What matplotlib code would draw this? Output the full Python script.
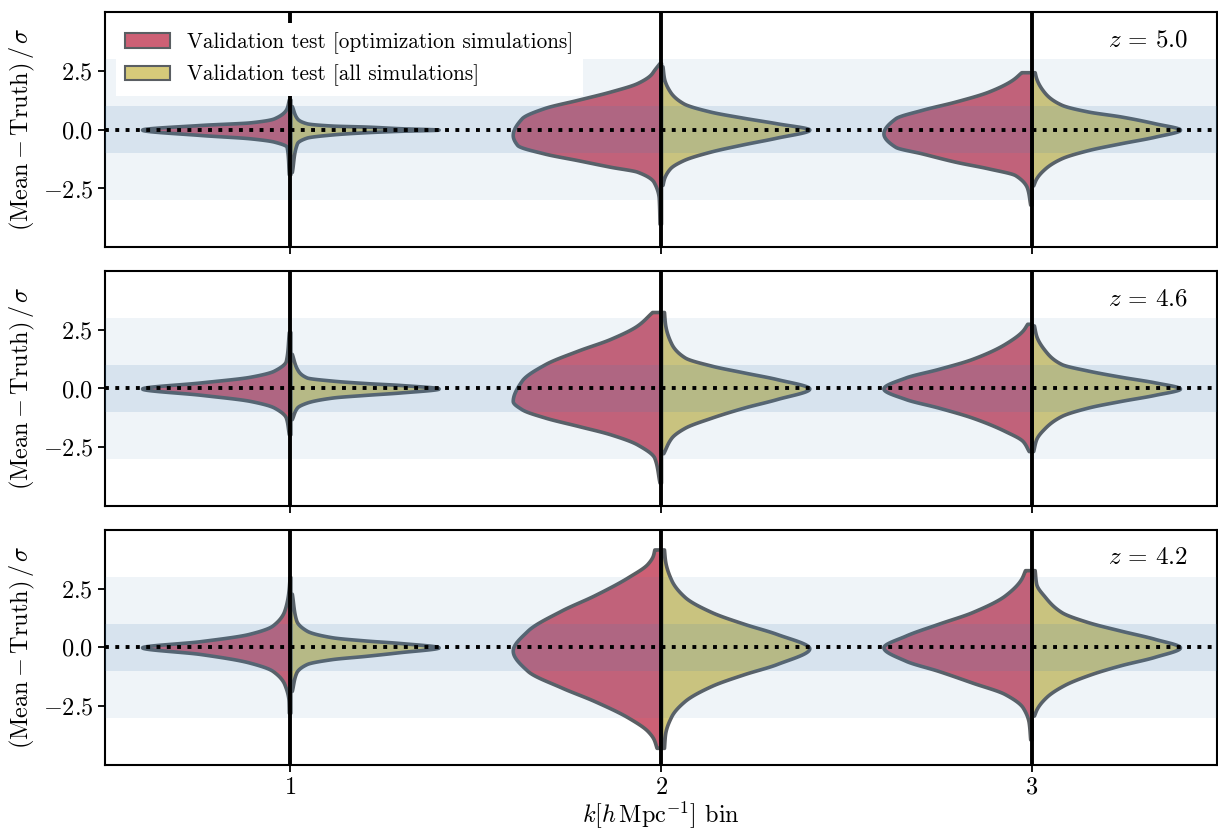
import numpy as np
import matplotlib.pyplot as plt
from matplotlib.patches import Patch

plt.rcParams.update({
    'font.family': 'serif',
    'font.serif': ['cmr10'],
    'mathtext.fontset': 'cm',
    'axes.formatter.use_mathtext': True,
    'font.size': 17,
    'axes.linewidth': 1.5,
    'xtick.major.width': 1.3,
    'ytick.major.width': 1.3,
    'xtick.major.size': 5,
    'ytick.major.size': 5,
})

# redshift panels and k bins
redshifts = ['5.0', '4.6', '4.2']
k_bins = [1, 2, 3]
labels = ['Validation test [optimization simulations]',
          'Validation test [all simulations]']

# violin half profiles: (value, width relative to peak)
# one list per redshift, one profile per k bin
opt_z50 = [
    [(-1.9, 0.01), (-0.73, 0.025), (-0.51, 0.11), (-0.37, 0.27), (-0.23, 0.6), (0.0, 1.0),
     (0.2, 0.6), (0.31, 0.27), (0.48, 0.11), (0.91, 0.025), (1.28, 0.01)],
    [(-4.0, 0.01), (-2.93, 0.015), (-2.22, 0.05), (-1.79, 0.16), (-1.58, 0.34), (-1.3, 0.56),
     (-1.01, 0.79), (-0.65, 0.97), (-0.23, 1.0), (0.48, 0.94), (0.91, 0.79), (1.27, 0.56),
     (1.62, 0.34), (1.98, 0.16), (2.34, 0.07), (2.55, 0.045), (2.83, 0.01)],
    [(-3.19, 0.01), (-2.5, 0.03), (-1.94, 0.11), (-1.65, 0.29), (-1.37, 0.51), (-1.01, 0.74),
     (-0.73, 0.92), (-0.16, 1.0), (0.48, 0.92), (0.84, 0.74), (1.2, 0.51), (1.62, 0.29),
     (2.12, 0.13), (2.44, 0.07)],
]
all_z50 = [
    [(-1.8, 0.01), (-0.58, 0.045), (-0.34, 0.11), (-0.2, 0.29), (-0.11, 0.51), (-0.05, 0.74),
     (0.0, 1.0), (0.06, 0.74), (0.13, 0.51), (0.17, 0.29), (0.27, 0.11), (0.48, 0.045), (1.0, 0.01)],
    [(-2.35, 0.01), (-2.08, 0.02), (-1.65, 0.06), (-1.3, 0.15), (-0.94, 0.33), (-0.63, 0.55),
     (-0.34, 0.78), (0.0, 1.0), (0.27, 0.78), (0.51, 0.55), (0.77, 0.33), (1.12, 0.15),
     (1.62, 0.06), (2.19, 0.02), (2.69, 0.01)],
    [(-2.37, 0.01), (-2.08, 0.03), (-1.65, 0.09), (-1.22, 0.2), (-0.87, 0.38), (-0.58, 0.6),
     (-0.3, 0.83), (0.0, 1.0), (0.27, 0.83), (0.56, 0.6), (0.77, 0.38), (1.06, 0.2),
     (1.55, 0.09), (2.19, 0.03), (2.44, 0.02)],
]
opt_z46 = [
    [(-1.95, 0.01), (-1.24, 0.03), (-0.81, 0.11), (-0.53, 0.27), (-0.27, 0.6), (0.0, 1.0),
     (0.26, 0.6), (0.5, 0.27), (0.76, 0.11), (1.18, 0.03), (2.4, 0.01)],
    [(-4.0, 0.01), (-2.95, 0.045), (-2.38, 0.16), (-1.95, 0.34), (-1.59, 0.56), (-1.24, 0.78),
     (-0.88, 0.94), (-0.53, 1.0), (0.33, 0.94), (1.04, 0.78), (1.61, 0.56), (2.11, 0.34),
     (2.68, 0.16), (3.25, 0.06)],
    [(-2.66, 0.02), (-2.24, 0.06), (-1.81, 0.18), (-1.24, 0.4), (-0.81, 0.63), (-0.45, 0.85),
     (0.0, 1.0), (0.47, 0.85), (0.83, 0.63), (1.26, 0.4), (1.9, 0.18), (2.47, 0.06), (2.75, 0.03)],
]
all_z46 = [
    [(-1.3, 0.01), (-0.81, 0.045), (-0.6, 0.11), (-0.38, 0.29), (-0.27, 0.51), (-0.17, 0.74),
     (0.0, 1.0), (0.15, 0.74), (0.23, 0.51), (0.33, 0.29), (0.47, 0.11), (0.83, 0.045), (1.47, 0.01)],
    [(-2.75, 0.015), (-2.09, 0.07), (-1.67, 0.16), (-1.24, 0.34), (-0.81, 0.56), (-0.45, 0.78),
     (0.0, 1.0), (0.4, 0.78), (0.68, 0.56), (0.97, 0.34), (1.32, 0.16), (1.9, 0.07),
     (2.75, 0.027), (3.25, 0.02)],
    [(-2.66, 0.01), (-2.16, 0.03), (-1.67, 0.09), (-1.17, 0.2), (-0.81, 0.38), (-0.53, 0.6),
     (-0.27, 0.83), (0.0, 1.0), (0.26, 0.83), (0.5, 0.6), (0.76, 0.38), (1.04, 0.2),
     (1.61, 0.09), (2.25, 0.03), (2.68, 0.015)],
]
opt_z42 = [
    [(-2.78, 0.01), (-2.28, 0.012), (-1.57, 0.04), (-1.0, 0.12), (-0.64, 0.28), (-0.28, 0.61),
     (0.0, 1.0), (0.26, 0.61), (0.57, 0.28), (0.93, 0.12), (1.57, 0.04), (2.42, 0.012), (2.99, 0.005)],
    [(-4.27, 0.03), (-3.9, 0.05), (-3.56, 0.09), (-2.99, 0.22), (-2.28, 0.45), (-1.71, 0.67),
     (-1.0, 0.9), (-0.14, 1.0), (0.71, 0.9), (1.57, 0.67), (2.21, 0.45), (2.99, 0.22),
     (3.56, 0.09), (3.9, 0.055), (4.16, 0.045)],
    [(-3.91, 0.01), (-3.2, 0.02), (-2.56, 0.06), (-1.99, 0.18), (-1.5, 0.4), (-1.0, 0.63),
     (-0.57, 0.85), (0.0, 1.0), (0.5, 0.85), (1.0, 0.63), (1.5, 0.4), (2.21, 0.18),
     (2.92, 0.07), (3.28, 0.045)],
]
all_z42 = [
    [(-1.85, 0.01), (-1.07, 0.04), (-0.71, 0.11), (-0.5, 0.28), (-0.36, 0.51), (-0.21, 0.73),
     (0.0, 1.0), (0.19, 0.73), (0.29, 0.51), (0.43, 0.28), (0.71, 0.11), (1.14, 0.04), (2.28, 0.01)],
    [(-4.27, 0.02), (-3.7, 0.027), (-2.92, 0.07), (-2.28, 0.16), (-1.64, 0.34), (-1.14, 0.56),
     (-0.71, 0.78), (-0.04, 1.0), (0.57, 0.78), (1.0, 0.56), (1.5, 0.34), (2.14, 0.16),
     (2.85, 0.07), (3.7, 0.027), (4.16, 0.02)],
    [(-2.9, 0.015), (-2.6, 0.035), (-2.1, 0.1), (-1.6, 0.22), (-1.14, 0.4), (-0.76, 0.6),
     (-0.4, 0.83), (0.0, 1.0), (0.36, 0.83), (0.71, 0.6), (1.07, 0.38), (1.5, 0.2),
     (2.14, 0.09), (2.71, 0.03), (3.28, 0.02)],
]

opt_all = [opt_z50, opt_z46, opt_z42]
all_all = [all_z50, all_z46, all_z42]

red = '#cd6075'
yellow = '#d6ca7a'
edge = '#5a5e62'
half_width = 0.4


def pchip(xk, yk, xn):
    # monotone cubic (Fritsch-Carlson) so the outline does not overshoot
    xk = np.asarray(xk, float)
    yk = np.asarray(yk, float)
    h = np.diff(xk)
    d = np.diff(yk) / h
    m = np.zeros_like(yk)
    m[0], m[-1] = d[0], d[-1]
    for i in range(1, len(xk) - 1):
        if d[i - 1] * d[i] > 0:
            w1 = 2 * h[i] + h[i - 1]
            w2 = h[i] + 2 * h[i - 1]
            m[i] = (w1 + w2) / (w1 / d[i - 1] + w2 / d[i])
    idx = np.clip(np.searchsorted(xk, xn) - 1, 0, len(xk) - 2)
    t = (xn - xk[idx]) / h[idx]
    h00 = 2 * t**3 - 3 * t**2 + 1
    h10 = t**3 - 2 * t**2 + t
    h01 = -2 * t**3 + 3 * t**2
    h11 = t**3 - t**2
    return h00 * yk[idx] + h10 * h[idx] * m[idx] + h01 * yk[idx + 1] + h11 * h[idx] * m[idx + 1]


def draw_half(ax, k, prof, side, color):
    ys = [p[0] for p in prof]
    ws = [p[1] for p in prof]
    yy = np.linspace(ys[0], ys[-1], 600)
    ww = np.clip(pchip(ys, ws, yy), 0, None)
    xx = k + side * half_width * ww
    ax.fill_betweenx(yy, xx, k, facecolor=color, edgecolor=edge, linewidth=2.6, zorder=2)


fig, axes = plt.subplots(3, 1, figsize=(12.18, 8.31), dpi=100, sharex=True)

for i, ax in enumerate(axes):
    for j, k in enumerate(k_bins):
        draw_half(ax, k, opt_all[i][j], -1, red)
        draw_half(ax, k, all_all[i][j], 1, yellow)

    # 1 and 3 sigma bands, drawn over the violins
    ax.axhspan(-3, 3, color='steelblue', alpha=0.085, lw=0, zorder=3)
    ax.axhspan(-1, 1, color='steelblue', alpha=0.14, lw=0, zorder=3)
    ax.axhline(0, color='k', ls=':', lw=2.8, zorder=4)
    for k in k_bins:
        ax.axvline(k, color='k', lw=2.8, zorder=4.5)

    ax.set_xlim(0.5, 3.5)
    ax.set_ylim(-5, 5)
    ax.set_yticks([-2.5, 0, 2.5])
    ax.set_ylabel(r'$(\mathrm{Mean} - \mathrm{Truth})\,/\,\sigma$', fontsize=17.5)
    ax.tick_params(labelsize=17.5)
    ax.text(0.974, 0.88, r'$z\,=\,%s$' % redshifts[i], transform=ax.transAxes,
            ha='right', va='center', fontsize=18)

axes[-1].set_xticks(k_bins)
axes[-1].set_xlabel(r'$k[h\,\mathrm{Mpc}^{-1}]$ bin', fontsize=17.5, labelpad=1)

handles = [Patch(facecolor=red, edgecolor=edge, linewidth=1.5, label=labels[0]),
           Patch(facecolor=yellow, edgecolor=edge, linewidth=1.5, label=labels[1])]
leg = axes[0].legend(handles=handles, loc='upper left', fontsize=15.3, framealpha=1,
                     fancybox=False, edgecolor='none', handlelength=2.1, handleheight=0.7,
                     handletextpad=0.8, labelspacing=0.5, borderpad=0.45)
leg.set_zorder(10)

plt.subplots_adjust(left=0.0862, right=0.9992, top=0.9856, bottom=0.0794, hspace=0.1)
fig.savefig('out.png', dpi=100)
